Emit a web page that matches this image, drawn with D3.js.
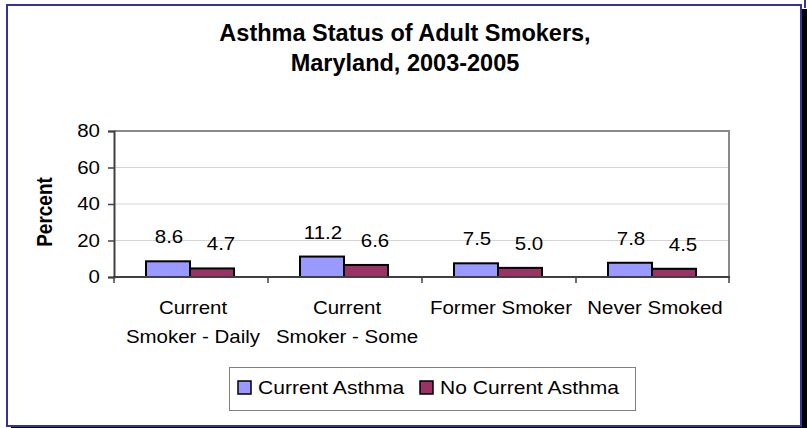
<!DOCTYPE html>
<html>
<head>
<meta charset="utf-8">
<script src="https://cdn.jsdelivr.net/npm/d3@7/dist/d3.min.js"></script>
<style>
  html, body { margin: 0; padding: 0; background: #fff; }
  svg { display: block; }
  text { font-family: "Liberation Sans", Arial, sans-serif; fill: #000; }
</style>
</head>
<body>
<svg id="chart" width="807" height="428"></svg>
<script>
// Data
const categories = [["Current", "Smoker - Daily"], ["Current", "Smoker - Some"], ["Former Smoker"], ["Never Smoked"]];
const seriesNames = ["Current Asthma", "No Current Asthma"];
const currentAsthma = [8.6, 11.2, 7.5, 7.8];
const noCurrentAsthma = [4.7, 6.6, 5.0, 4.5];
const yTicks = [0, 20, 40, 60, 80];
const titleLines = ["Asthma Status of Adult Smokers,", "Maryland, 2003-2005"];
const yLabel = "Percent";

const colors = ["#9999FF", "#993366"];
const stretch = 1.17; // horizontal widening of body text

const svg = d3.select("#chart");

// Frame with drop shadow
svg.append("rect").attr("x", 802).attr("y", 9).attr("width", 5).attr("height", 419).attr("fill", "#000");
svg.append("rect").attr("x", 11).attr("y", 426).attr("width", 796).attr("height", 2).attr("fill", "#000");
svg.append("rect").attr("x", 7).attr("y", 5).attr("width", 794).attr("height", 421)
  .attr("fill", "#fff").attr("stroke", "#333399").attr("stroke-width", 2);
svg.append("line").attr("x1", 805).attr("x2", 805).attr("y1", 0).attr("y2", 8)
  .attr("stroke", "#333399").attr("stroke-width", 2);

// helper: horizontally widened text
function sText(g, x, y, str, size, weight, anchor, k) {
  return g.append("text")
    .attr("transform", `translate(${x},${y}) scale(${k == null ? stretch : k},1)`)
    .attr("font-size", size)
    .attr("font-weight", weight || "normal")
    .attr("text-anchor", anchor || "middle")
    .text(str);
}

// Title
titleLines.forEach((t, i) => sText(svg, 405, 41 + i * 30, t, 23.5, "bold", "middle", 1));

// Plot area
const plot = { left: 114, right: 730, top: 131, bottom: 277 };
const x0 = d3.scaleBand().domain(d3.range(categories.length)).range([plot.left, plot.right]);
const x1 = d3.scaleBand().domain(d3.range(seriesNames.length)).range([32, 120]);
const y = d3.scaleLinear().domain([0, 80]).range([plot.bottom, plot.top]);

// Gridlines
svg.append("g").selectAll("line").data(yTicks.filter(d => d > 0 && d < 80)).join("line")
  .attr("x1", plot.left).attr("x2", plot.right)
  .attr("y1", d => y(d)).attr("y2", d => y(d))
  .attr("stroke", "#d4d4d4").attr("stroke-width", 1);

// Plot border (top and right)
svg.append("path")
  .attr("d", `M${plot.left},${y(80)}H${plot.right - 1}V${plot.bottom}`)
  .attr("fill", "none").attr("stroke", "#8a8a8a").attr("stroke-width", 2);

// Bars
const seriesData = [currentAsthma, noCurrentAsthma];
const bars = svg.append("g");
seriesData.forEach((vals, s) => {
  bars.selectAll(null).data(vals).join("rect")
    .attr("x", (d, i) => x0(i) + x1(s))
    .attr("y", d => y(d))
    .attr("width", x1.bandwidth())
    .attr("height", d => y(0) - y(d))
    .attr("fill", colors[s])
    .attr("stroke", "#000").attr("stroke-width", 2);
});

// Value labels
const labelDx = [1, 9];
seriesData.forEach((vals, s) => {
  vals.forEach((v, i) => {
    sText(svg, x0(i) + x1(s) + x1.bandwidth() / 2 + labelDx[s], y(v) - 18, v.toFixed(1), 17.5);
  });
});

// Y axis
const yAxis = d3.axisLeft(y).tickValues(yTicks).tickSize(6).tickPadding(4).tickFormat(d3.format("d"));
const yg = svg.append("g").attr("transform", `translate(${plot.left},0)`).call(yAxis);
yg.select(".domain").attr("stroke", "#404040").attr("stroke-width", 2);
yg.selectAll(".tick line").attr("stroke", "#404040").attr("stroke-width", 1.5);
yg.selectAll(".tick text").remove();
yTicks.forEach(t => sText(svg, 100, y(t) + 6, String(t), 17.5, "normal", "end"));

// X axis
const xg = svg.append("g");
xg.append("line").attr("x1", plot.left - 1).attr("x2", plot.right)
  .attr("y1", plot.bottom).attr("y2", plot.bottom)
  .attr("stroke", "#404040").attr("stroke-width", 2);
xg.selectAll("line.tk").data(d3.range(categories.length + 1)).join("line").attr("class", "tk")
  .attr("x1", i => i < categories.length ? x0(i) : plot.right - 1)
  .attr("x2", i => i < categories.length ? x0(i) : plot.right - 1)
  .attr("y1", plot.bottom).attr("y2", plot.bottom + 6)
  .attr("stroke", "#404040").attr("stroke-width", 1.5);

categories.forEach((lines, i) => {
  lines.forEach((ln, j) => {
    sText(svg, x0(i) + x0.bandwidth() / 2 + 2, 314 + j * 29, ln, 17.5);
  });
});

// Y axis title
svg.append("text")
  .attr("transform", `translate(52,212) rotate(-90) scale(1,${stretch})`)
  .attr("font-size", 19).attr("font-weight", "bold").attr("text-anchor", "middle")
  .text(yLabel);

// Legend
const lg = svg.append("g");
lg.append("rect").attr("x", 229.5).attr("y", 367.5).attr("width", 406).attr("height", 43)
  .attr("fill", "#fff").attr("stroke", "#808080").attr("stroke-width", 1);
const legendItems = [{ name: seriesNames[0], sx: 238, tx: 258 }, { name: seriesNames[1], sx: 420, tx: 440 }];
legendItems.forEach((it, s) => {
  lg.append("rect").attr("x", it.sx).attr("y", 381).attr("width", 13).attr("height", 13)
    .attr("fill", colors[s]).attr("stroke", "#000").attr("stroke-width", 1.5);
  sText(lg, it.tx, 394, it.name, 18, "normal", "start");
});
</script>
</body>
</html>
